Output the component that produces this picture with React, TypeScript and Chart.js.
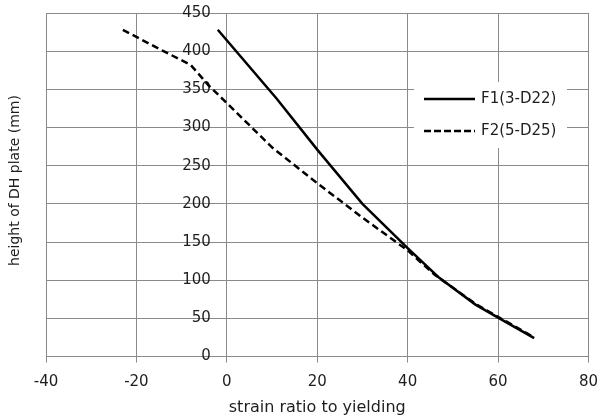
import React, { useEffect, useRef } from "react";
import { Chart, registerables } from "chart.js";

Chart.register(...registerables);

// ---- data ----
const seriesNames = ["F1(3-D22)", "F2(5-D25)"];
const f1Strain = [-2, 11, 20, 30, 40, 47, 55, 60, 68];
const f1Height = [428, 338, 271, 200, 142, 103, 68, 51, 24];
const f2Strain = [-23, -14, -8, -4, 0, 10, 20, 30, 40, 46, 55, 60, 68];
const f2Height = [428, 400, 382, 355, 332, 274, 227, 182, 139, 107, 69, 52, 25];
const xMin = -40;
const xMax = 80;
const xStep = 20;
const yMin = 0;
const yMax = 450;
const yStep = 50;
const xTitle = "strain ratio to yielding";
const yTitle = "height of DH plate (mm)";

const FONT = "'DejaVu Sans', sans-serif";
const GRID = "#8a8a8a";
const TEXT = "#1e1e1e";

const toPoints = (xs: number[], ys: number[]) => xs.map((x, i) => ({ x, y: ys[i] }));

// y tick labels sit left of the y axis that crosses at x = 0
const yLabelPlugin = {
  id: "yLabels",
  beforeDatasetsDraw(chart: any) {
    const ctx = chart.ctx as CanvasRenderingContext2D;
    const ys = chart.scales.y;
    const xs = chart.scales.x;
    const axisX = xs.getPixelForValue(0);
    ctx.save();
    ctx.fillStyle = TEXT;
    ctx.font = `15px ${FONT}`;
    ctx.textAlign = "right";
    ctx.textBaseline = "middle";
    ys.ticks.forEach((t: any) => {
      ctx.fillText(String(t.value), axisX - 16, ys.getPixelForValue(t.value));
    });
    ctx.restore();
  },
};

const overlayPlugin = {
  id: "overlay",
  afterDraw(chart: any) {
    const ctx = chart.ctx as CanvasRenderingContext2D;
    ctx.save();
    // y axis title
    ctx.fillStyle = TEXT;
    ctx.font = `14px ${FONT}`;
    ctx.textAlign = "center";
    ctx.textBaseline = "middle";
    ctx.translate(15, 180.5);
    ctx.rotate(-Math.PI / 2);
    ctx.fillText(yTitle, 0, 0);
    ctx.restore();

    // legend box
    ctx.save();
    const bx = 414, by = 82, bw = 153, bh = 66;
    ctx.fillStyle = "#ffffff";
    ctx.fillRect(bx, by, bw, bh);
    const rows = [
      { y: 99, dash: [] as number[] },
      { y: 131, dash: [7, 3] },
    ];
    rows.forEach((r, i) => {
      ctx.beginPath();
      ctx.setLineDash(r.dash);
      ctx.strokeStyle = "#000";
      ctx.lineWidth = 2.5;
      ctx.moveTo(424, r.y);
      ctx.lineTo(475, r.y);
      ctx.stroke();
      ctx.setLineDash([]);
      ctx.fillStyle = TEXT;
      ctx.font = `15px ${FONT}`;
      ctx.textAlign = "left";
      ctx.textBaseline = "middle";
      ctx.fillText(seriesNames[i], 481, r.y);
    });
    ctx.restore();
  },
};

export default function App() {
  const ref = useRef<HTMLCanvasElement | null>(null);

  useEffect(() => {
    if (!ref.current) return;
    const chart = new Chart(ref.current, {
      type: "scatter",
      data: {
        datasets: [
          {
            label: seriesNames[0],
            data: toPoints(f1Strain, f1Height),
            showLine: true,
            borderColor: "#000",
            borderWidth: 2.5,
            pointRadius: 0,
            tension: 0,
          },
          {
            label: seriesNames[1],
            data: toPoints(f2Strain, f2Height),
            showLine: true,
            borderColor: "#000",
            borderWidth: 2.5,
            borderDash: [7, 4],
            pointRadius: 0,
            tension: 0,
          },
        ],
      },
      options: {
        animation: false,
        responsive: false,
        devicePixelRatio: 1,
        layout: { padding: { left: 46, right: 9.5, top: 13, bottom: 0.4 } },
        plugins: { legend: { display: false }, tooltip: { enabled: false } },
        scales: {
          x: {
            type: "linear",
            min: xMin,
            max: xMax,
            ticks: {
              stepSize: xStep,
              font: { family: FONT, size: 15, lineHeight: 40 / 15 },
              color: TEXT,
              padding: 0,
            },
            grid: { color: GRID, tickLength: 6, lineWidth: 1 },
            border: { color: GRID },
            title: {
              display: true,
              text: xTitle,
              font: { family: FONT, size: 16 },
              color: TEXT,
              padding: { top: -4.1, bottom: 0 },
            },
          },
          y: {
            type: "linear",
            position: { x: 0 } as any,
            min: yMin,
            max: yMax,
            ticks: { stepSize: yStep, display: false },
            grid: { color: GRID, tickLength: 8, lineWidth: 1 },
            border: { color: GRID },
          },
        },
      },
      plugins: [yLabelPlugin, overlayPlugin],
    });
    return () => chart.destroy();
  }, []);

  return (
    <div style={{ position: "absolute", left: 0, top: 0, width: 598, height: 418, background: "#fff" }}>
      <canvas ref={ref} width={598} height={418} />
    </div>
  );
}
